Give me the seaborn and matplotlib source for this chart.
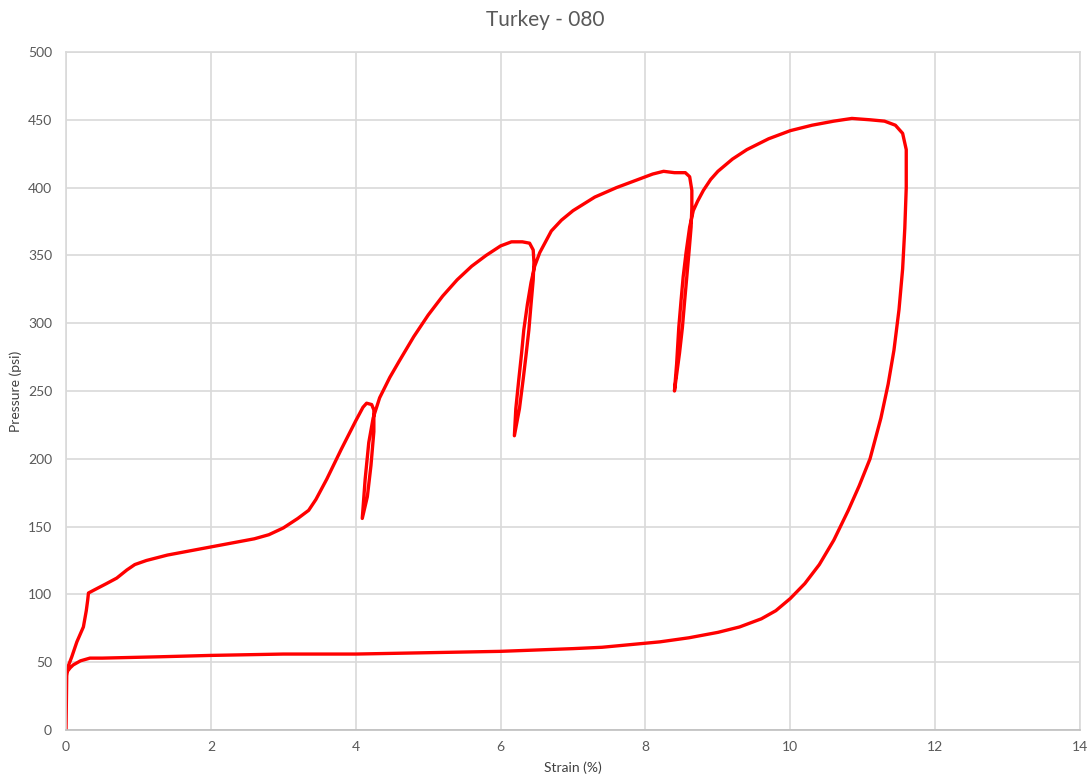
import matplotlib
matplotlib.use("Agg")
import matplotlib.pyplot as plt
import seaborn as sns
import pandas as pd

# Strain (%) / pressure (psi) trace of the loading-unloading test, in recorded order
strain = [
    0.000, 0.005, 0.01, 0.03, 0.08, 0.15, 0.24, 0.28, 0.30, 0.31, 0.38, 0.56,
    0.70, 0.84, 0.95, 1.11, 1.40, 1.80, 2.20, 2.60,
    2.80, 3.00, 3.20, 3.35, 3.45, 3.60, 3.80, 4.00, 4.10, 4.15, 4.22, 4.25,
    4.25, 4.21, 4.16, 4.09,
    4.13, 4.18, 4.24, 4.33, 4.47, 4.60, 4.80, 5.00, 5.20, 5.40, 5.60, 5.80,
    6.00, 6.15, 6.30, 6.40, 6.45, 6.46, 6.45, 6.42, 6.39, 6.35, 6.31, 6.26,
    6.19,
    6.21, 6.25, 6.29, 6.32, 6.37, 6.42, 6.47, 6.54, 6.60, 6.70, 6.84, 7.00,
    7.30, 7.60, 7.90, 8.10, 8.25, 8.40, 8.55, 8.61, 8.64, 8.64, 8.63, 8.60,
    8.57, 8.54, 8.51, 8.47, 8.40,
    8.43, 8.46, 8.49, 8.52, 8.56, 8.61, 8.66, 8.72, 8.80, 8.90, 9.00, 9.20,
    9.40, 9.70, 10.00, 10.30, 10.60,
    10.85, 11.10, 11.30, 11.45, 11.55, 11.60, 11.60, 11.58, 11.55, 11.50,
    11.43, 11.35, 11.25, 11.10, 10.95, 10.80, 10.60, 10.40, 10.20, 10.00,
    9.80, 9.60, 9.30, 9.00, 8.60, 8.20, 7.80, 7.40, 7.00, 6.50, 6.00, 5.00,
    4.00, 3.00, 2.00, 1.30, 0.50, 0.33, 0.20, 0.10, 0.06, 0.03, 0.00,
]
pressure = [
    0, 20, 40, 47, 54, 65, 76, 88, 96, 101, 103, 108,
    112, 118, 122, 125, 129, 133, 137, 141,
    144, 149, 156, 162, 170, 185, 207, 228, 238, 241, 240, 236,
    220, 195, 172, 156,
    185, 212, 230, 245, 260, 272, 290, 306, 320, 332, 342, 350,
    357, 360, 360, 359, 354, 345, 332, 314, 295, 276, 258, 237,
    217,
    237, 258, 278, 295, 314, 330, 342, 352, 358, 368, 376, 383,
    393, 400, 406, 410, 412, 411, 411, 408, 398, 385, 371, 352,
    334, 316, 297, 278, 250,
    270, 297, 316, 334, 352, 371, 383, 390, 398, 406, 412, 421,
    428, 436, 442, 446, 449,
    451, 450, 449, 446, 440, 428, 400, 370, 340, 310,
    280, 255, 230, 200, 180, 162, 140, 122, 108, 97,
    88, 82, 76, 72, 68, 65, 63, 61, 60, 59, 58, 57,
    56, 56, 55, 54, 53, 53, 51, 48, 46, 44, 43,
]

x_ticks = [0, 2, 4, 6, 8, 10, 12, 14]
y_ticks = [0, 50, 100, 150, 200, 250, 300, 350, 400, 450, 500]

df = pd.DataFrame({"Strain (%)": strain, "Pressure (psi)": pressure})

sns.set_theme(style="white")
plt.rcParams["font.family"] = ["Lato", "DejaVu Sans"]

fig = plt.figure(figsize=(10.91, 7.83), dpi=100)
ax = fig.add_axes([0.0605, 0.0677, 0.9295, 0.8659])

sns.lineplot(data=df, x="Strain (%)", y="Pressure (psi)", sort=False,
             estimator=None, color="#ff0000", linewidth=2.4, ax=ax)

grid_c = "#d9d9d9"
ax.set_xlim(0, 14)
ax.set_ylim(0, 500)
ax.set_xticks(x_ticks)
ax.set_yticks(y_ticks)
ax.grid(True, color=grid_c, linewidth=1.2)
ax.set_axisbelow(True)
for side in ["left", "bottom", "top", "right"]:
    ax.spines[side].set_visible(True)
    ax.spines[side].set_color(grid_c)
    ax.spines[side].set_linewidth(1.2)
ax.spines["bottom"].set_color("#bfbfbf")

ax.tick_params(axis="both", length=0, labelsize=10, labelcolor="#595959")
ax.tick_params(axis="y", pad=10)
ax.tick_params(axis="x", pad=8)

ax.set_xlabel("Strain (%)", fontsize=10, color="#404040", labelpad=6)
ax.set_ylabel("Pressure (psi)", fontsize=10, color="#404040", labelpad=4)
fig.suptitle("Turkey - 080", x=0.5, y=0.987, fontsize=15, color="#595959")

fig.savefig("out.png", dpi=100, facecolor="white")
